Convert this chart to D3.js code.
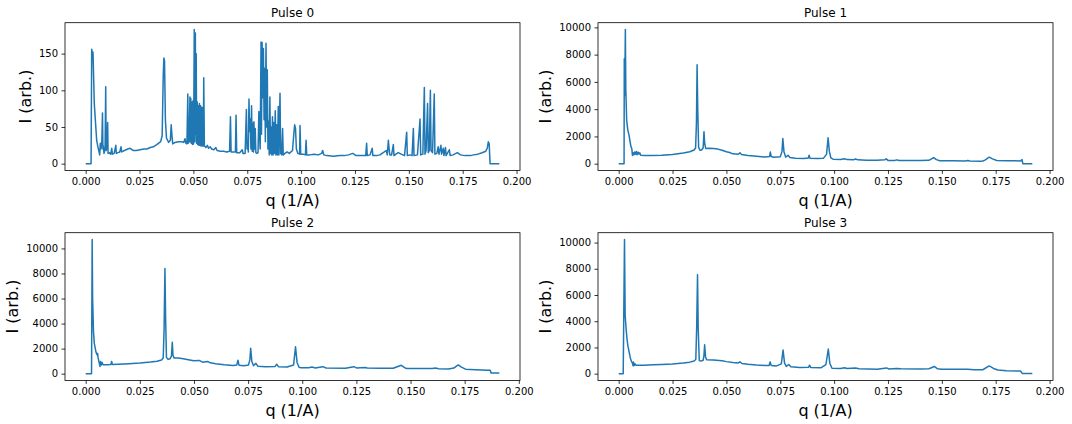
<!DOCTYPE html>
<html>
<head>
<meta charset="utf-8">
<script src="https://cdn.jsdelivr.net/npm/d3@7/dist/d3.min.js"></script>
<style>
  html, body { margin: 0; padding: 0; background: #fff; }
  svg { display: block; }
  text { font-family: "DejaVu Sans", sans-serif; fill: #000; }
</style>
</head>
<body>
<svg id="chart" width="1072" height="424"></svg>
<script>
// ---------------- data ----------------
const titles = ["Pulse 0", "Pulse 1", "Pulse 2", "Pulse 3"];
const xLabel = "q (1/A)";
const yLabel = "I (arb.)";
const xTickValues = [0.000, 0.025, 0.050, 0.075, 0.100, 0.125, 0.150, 0.175, 0.200];
const yTickValues0 = [0, 50, 100, 150];
const yTickValuesK = [0, 2000, 4000, 6000, 8000, 10000];

const q0 = [0.0000,0.0025,0.0028,0.0031,0.0034,0.0040,0.0047,0.0051,0.0056,0.0062,0.0065,0.0068,0.0071,0.0075,0.0078,0.0080,0.0082,0.0085,0.0090,0.0093,0.0095,0.0098,0.0102,0.0104,0.0110,0.0116,0.0121,0.0124,0.0132,0.0140,0.0142,0.0150,0.0158,0.0164,0.0167,0.0180,0.0195,0.0206,0.0220,0.0235,0.0252,0.0270,0.0284,0.0300,0.0314,0.0330,0.0348,0.0355,0.0360,0.0363,0.0366,0.0370,0.0375,0.0385,0.0393,0.0397,0.0400,0.0404,0.0415,0.0430,0.0445,0.0455,0.0461,0.0465,0.0470,0.0474,0.0476,0.0480,0.0484,0.0486,0.0488,0.0490,0.0494,0.0496,0.0499,0.0501,0.0504,0.0507,0.0509,0.0511,0.0513,0.0515,0.0518,0.0520,0.0523,0.0525,0.0528,0.0530,0.0533,0.0535,0.0538,0.0541,0.0544,0.0546,0.0548,0.0551,0.0553,0.0558,0.0565,0.0570,0.0578,0.0585,0.0595,0.0604,0.0610,0.0625,0.0640,0.0655,0.0668,0.0672,0.0675,0.0685,0.0695,0.0698,0.0701,0.0715,0.0727,0.0730,0.0740,0.0746,0.0749,0.0752,0.0755,0.0758,0.0761,0.0764,0.0767,0.0770,0.0773,0.0776,0.0779,0.0781,0.0784,0.0787,0.0790,0.0795,0.0800,0.0804,0.0807,0.0810,0.0814,0.0816,0.0819,0.0822,0.0825,0.0828,0.0831,0.0834,0.0837,0.0840,0.0843,0.0846,0.0849,0.0852,0.0855,0.0858,0.0861,0.0864,0.0867,0.0870,0.0873,0.0876,0.0880,0.0883,0.0887,0.0890,0.0894,0.0897,0.0902,0.0905,0.0910,0.0914,0.0917,0.0925,0.0935,0.0945,0.0960,0.0966,0.0970,0.0974,0.0978,0.0985,0.0993,0.0995,0.0998,0.1010,0.1020,0.1023,0.1026,0.1040,0.1060,0.1080,0.1095,0.1100,0.1105,0.1120,0.1150,0.1180,0.1200,0.1220,0.1240,0.1255,0.1280,0.1300,0.1304,0.1307,0.1320,0.1330,0.1333,0.1350,0.1366,0.1386,0.1395,0.1400,0.1405,0.1408,0.1412,0.1420,0.1428,0.1431,0.1440,0.1451,0.1465,0.1480,0.1490,0.1493,0.1505,0.1515,0.1521,0.1524,0.1540,0.1552,0.1555,0.1565,0.1572,0.1575,0.1580,0.1587,0.1590,0.1595,0.1600,0.1603,0.1610,0.1618,0.1621,0.1630,0.1636,0.1640,0.1649,0.1652,0.1660,0.1663,0.1670,0.1673,0.1688,0.1692,0.1705,0.1725,0.1740,0.1760,0.1786,0.1800,0.1820,0.1840,0.1857,0.1864,0.1869,0.1873,0.1877,0.1920];
const I0 = [0,0,156,150,152,82,50,32,24,16,12,28,20,30,69,20,24,14,20,105,18,22,56,14,15,13,21,13,14,25,14,15,16,23,16,18,20,21,18,18,19,20,20,22,23,26,30,38,120,144,140,60,35,29,32,53,40,27,29,30,30,29,34,28,27,95,28,30,91,30,89,28,84,26,86,27,183,30,178,40,150,28,84,26,79,25,82,25,79,24,77,24,77,24,117,24,24,22,25,21,23,20,19,22,18,17,17,16,17,64,16,16,16,66,15,15,19,14,14,74,20,30,16,88,44,61,20,79,17,55,16,57,20,48,15,14,15,71,40,20,166,40,165,90,157,60,130,30,164,50,128,20,58,12,91,14,50,12,64,12,56,14,72,12,53,12,78,12,96,14,12,48,12,14,16,14,18,40,53,48,20,14,13,52,13,13,12,32,12,12,13,12,14,18,12,11,10,11,11,12,14,11,11,11,28,11,12,21,11,11,12,16,18,12,32,21,12,12,26,11,13,15,13,11,43,11,12,11,48,11,12,61,12,13,104,13,18,82,15,18,100,18,15,95,13,14,23,13,25,13,21,11,22,11,19,11,12,15,12,11,11,12,13,15,17,21,30,27,0,0];

const q1 = [0.0000,0.0025,0.0026,0.0028,0.0031,0.0033,0.0037,0.0042,0.0048,0.0053,0.0057,0.0061,0.0064,0.0068,0.0071,0.0074,0.0078,0.0082,0.0085,0.0090,0.0094,0.0098,0.0102,0.0120,0.0150,0.0200,0.0250,0.0300,0.0330,0.0350,0.0357,0.0361,0.0364,0.0367,0.0371,0.0378,0.0385,0.0392,0.0396,0.0399,0.0404,0.0420,0.0440,0.0460,0.0480,0.0500,0.0515,0.0530,0.0555,0.0563,0.0570,0.0600,0.0640,0.0680,0.0700,0.0704,0.0708,0.0720,0.0750,0.0758,0.0762,0.0767,0.0775,0.0786,0.0795,0.0820,0.0860,0.0880,0.0884,0.0888,0.0920,0.0950,0.0965,0.0972,0.0978,0.0985,0.0995,0.1030,0.1048,0.1060,0.1090,0.1100,0.1110,0.1150,0.1200,0.1235,0.1242,0.1250,0.1280,0.1292,0.1300,0.1350,0.1400,0.1440,0.1462,0.1475,0.1490,0.1550,0.1610,0.1620,0.1630,0.1680,0.1690,0.1700,0.1720,0.1735,0.1755,0.1800,0.1840,0.1865,0.1872,0.1876,0.1920];
const I1 = [0,0,7700,5000,9850,5500,3200,2500,2100,1600,1250,1100,600,800,650,850,700,900,650,850,700,800,620,600,600,620,680,780,880,1000,1150,3000,7250,4000,1200,980,1000,1150,2350,1500,1120,1130,1120,1070,980,870,820,720,700,800,680,600,540,490,520,850,520,480,500,900,1850,900,480,620,450,400,380,420,620,400,380,390,700,1900,900,420,330,310,360,300,290,340,280,260,250,280,360,240,230,280,230,240,230,250,450,300,220,210,200,230,190,180,200,260,480,350,230,220,210,200,300,0,0];

const q2 = [0.0000,0.0027,0.0030,0.0032,0.0036,0.0040,0.0044,0.0048,0.0053,0.0055,0.0057,0.0062,0.0066,0.0069,0.0072,0.0076,0.0080,0.0100,0.0116,0.0120,0.0123,0.0150,0.0200,0.0250,0.0300,0.0330,0.0350,0.0358,0.0362,0.0366,0.0369,0.0373,0.0380,0.0390,0.0396,0.0400,0.0403,0.0408,0.0430,0.0450,0.0480,0.0500,0.0524,0.0540,0.0563,0.0575,0.0600,0.0640,0.0680,0.0698,0.0703,0.0708,0.0730,0.0752,0.0758,0.0762,0.0767,0.0775,0.0786,0.0795,0.0830,0.0875,0.0882,0.0890,0.0930,0.0960,0.0969,0.0976,0.0985,0.0995,0.1030,0.1045,0.1060,0.1095,0.1110,0.1200,0.1238,0.1250,0.1290,0.1300,0.1357,0.1420,0.1457,0.1475,0.1484,0.1560,0.1600,0.1615,0.1630,0.1675,0.1700,0.1720,0.1735,0.1754,0.1800,0.1857,0.1868,0.1872,0.1910];
const I2 = [0,0,10720,6000,3370,2400,2040,1700,1500,1620,1300,900,580,980,700,900,720,720,730,980,740,760,800,850,930,1000,1100,1250,3500,8400,4500,1300,1150,1200,1400,2500,1500,1250,1250,1200,1100,1030,1060,920,980,870,800,720,660,700,1070,680,640,700,1100,2030,1000,640,820,600,560,580,760,560,540,700,2150,900,520,470,480,530,460,560,450,440,560,460,500,450,440,440,670,460,420,420,420,450,400,380,450,700,520,360,320,280,270,60,50];

const q3 = [0.0000,0.0021,0.0027,0.0030,0.0034,0.0039,0.0043,0.0048,0.0054,0.0059,0.0064,0.0067,0.0069,0.0072,0.0076,0.0080,0.0090,0.0120,0.0160,0.0200,0.0250,0.0300,0.0330,0.0350,0.0358,0.0362,0.0366,0.0369,0.0374,0.0382,0.0392,0.0396,0.0399,0.0403,0.0408,0.0440,0.0480,0.0500,0.0530,0.0555,0.0563,0.0572,0.0600,0.0640,0.0680,0.0698,0.0703,0.0708,0.0730,0.0755,0.0763,0.0770,0.0778,0.0789,0.0800,0.0840,0.0882,0.0886,0.0892,0.0940,0.0962,0.0973,0.0980,0.0990,0.1030,0.1048,0.1060,0.1100,0.1115,0.1200,0.1243,0.1255,0.1290,0.1310,0.1400,0.1440,0.1465,0.1480,0.1500,0.1600,0.1620,0.1650,0.1690,0.1720,0.1740,0.1760,0.1800,0.1865,0.1873,0.1920];
const I3 = [0,0,10240,4500,3500,2600,2100,1700,1200,950,800,600,890,620,750,650,640,640,680,710,740,820,880,970,1080,3500,7550,3500,1000,960,1020,1400,2200,1300,1070,1050,980,920,860,820,900,780,720,660,620,620,900,620,580,750,1800,800,560,700,520,480,500,650,470,460,700,1880,800,420,400,450,390,430,370,340,440,360,400,370,360,380,550,370,330,330,340,300,300,590,400,280,230,200,20,20];

const qs = [q0, q1, q2, q3];
const Is = [I0, I1, I2, I3];
const yTicksPer = [yTickValues0, yTickValuesK, yTickValuesK, yTickValuesK];

// ---------------- layout ----------------
const colLeft = [65, 598];
const rowTop = [22.7, 232.7];
const axW = 455, axH = 147.7;
const color = "#1f77b4";

const svg = d3.select("#chart");
svg.append("rect").attr("width", 1072).attr("height", 424).attr("fill", "#fff");

for (let p = 0; p < 4; p++) {
  const left = colLeft[p % 2], top = rowTop[Math.floor(p / 2)];
  const q = qs[p], I = Is[p];
  const data = q.map((d, i) => [d, I[i]]);

  const qExt = d3.extent(q), iExt = d3.extent(I);
  const qPad = (qExt[1] - qExt[0]) * 0.05, iPad = (iExt[1] - iExt[0]) * 0.05;
  const x = d3.scaleLinear().domain([qExt[0] - qPad, qExt[1] + qPad]).range([0, axW]);
  const y = d3.scaleLinear().domain([iExt[0] - iPad, iExt[1] + iPad]).range([axH, 0]);

  const g = svg.append("g").attr("transform", `translate(${left},${top})`);

  // line
  g.append("path")
    .datum(data)
    .attr("fill", "none")
    .attr("stroke", color)
    .attr("stroke-width", 1.5)
    .attr("stroke-linejoin", "round")
    .attr("stroke-linecap", "butt")
    .attr("d", d3.line().x(d => x(d[0])).y(d => y(d[1])));

  // axes
  const xa = g.append("g").attr("transform", `translate(0,${axH})`)
    .call(d3.axisBottom(x).tickValues(xTickValues).tickFormat(d3.format(".3f")).tickSizeOuter(0).tickSize(3.5).tickPadding(3.5));
  const ya = g.append("g")
    .call(d3.axisLeft(y).tickValues(yTicksPer[p]).tickFormat(d3.format("d")).tickSizeOuter(0).tickSize(3.5).tickPadding(3.5));
  [xa, ya].forEach(a => {
    a.select(".domain").remove();
    a.selectAll(".tick line").attr("stroke", "#000").attr("stroke-width", 0.8);
    a.selectAll(".tick text").attr("font-size", 10).attr("font-family", "DejaVu Sans").attr("fill", "#000");
  });
  xa.selectAll(".tick text").attr("dy", null).attr("y", 14.6 - 0 ).attr("dominant-baseline", "auto");
  ya.selectAll(".tick text").attr("dy", "0.32em");

  // frame
  g.append("rect").attr("x", 0).attr("y", 0).attr("width", axW).attr("height", axH)
    .attr("fill", "none").attr("stroke", "#000").attr("stroke-width", 0.8);

  // title
  g.append("text").attr("x", axW / 2).attr("y", -5.4).attr("text-anchor", "middle")
    .attr("font-size", 12).text(titles[p]);

  // x label
  g.append("text").attr("x", axW / 2).attr("y", axH + 35.6).attr("text-anchor", "middle")
    .attr("font-size", 16).text(xLabel);

  // y label: place relative to widest tick label
  let maxW = 0;
  ya.selectAll(".tick text").each(function () { maxW = Math.max(maxW, this.getBBox().width); });
  const cx = -7 - maxW - 14;
  g.append("text")
    .attr("transform", `translate(${cx},${axH / 2}) rotate(-90)`)
    .attr("text-anchor", "middle").attr("dy", "0.36em")
    .attr("font-size", 16).text(yLabel);
}
</script>
</body>
</html>
